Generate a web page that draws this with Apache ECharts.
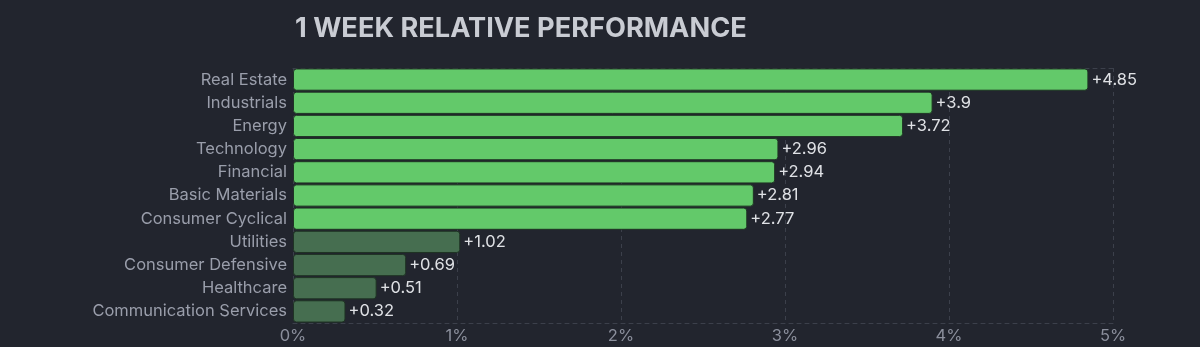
<!DOCTYPE html>
<html><head><meta charset="utf-8">
<script src="https://cdn.jsdelivr.net/npm/echarts@6/dist/echarts.min.js"></script>
<style>html,body{margin:0;padding:0;background:#22252e;}#c{width:1200px;height:347px;}</style>
</head><body><div id="c"></div>
<script>
const categories = ["Real Estate","Industrials","Energy","Technology","Financial","Basic Materials","Consumer Cyclical","Utilities","Consumer Defensive","Healthcare","Communication Services"];
const values = [4.85,3.9,3.72,2.96,2.94,2.81,2.77,1.02,0.69,0.51,0.32];
const highlighted = [true,true,true,true,true,true,true,false,false,false,false];
const tickValues = [0,1,2,3,4,5];
const titleText = "1 WEEK RELATIVE PERFORMANCE";

const chart = echarts.init(document.getElementById('c'), null, {renderer:'canvas'});
const gridDash = {color:'#3c404b', type:[4,4], width:1};
chart.setOption({
  backgroundColor:'#22252e',
  animation:false,
  title:{text:titleText,left:290,top:10,textStyle:{color:'#c9ccd3',fontFamily:'Inter',fontWeight:'bold',fontSize:27.2}},
  grid:{left:293,right:87,top:68,bottom:24},
  xAxis:[{type:'value',min:0,max:5,interval:1,position:'bottom',
    axisLine:{show:true,lineStyle:gridDash},axisTick:{show:false},
    splitLine:{show:true,lineStyle:gridDash},
    axisLabel:{color:'#8b8f9c',fontFamily:'Inter',fontSize:16.5,margin:5,formatter:v=>v+'%'}},
    {type:'value',min:0,max:5,interval:1,position:'top',
    axisLine:{show:true,lineStyle:gridDash},axisTick:{show:false},splitLine:{show:false},axisLabel:{show:false}}],
  yAxis:{type:'category',inverse:true,data:categories,
    axisLine:{show:false},axisTick:{show:false},splitLine:{show:false},
    axisLabel:{color:'#9a9eab',fontFamily:'Inter',fontSize:16.5,margin:6}},
  series:[{type:'bar',barCategoryGap:'4%',
    data:values.map((v,i)=>({value:v,itemStyle:{color:highlighted[i]?'#63c96a':'#466e50'}})),
    itemStyle:{borderColor:'#1f3324',borderWidth:1,borderRadius:3},
    label:{show:true,position:'right',distance:3,color:'#dfe1e5',fontFamily:'Inter',fontSize:16.5,formatter:p=>'+'+p.value}}]
});
</script></body></html>
